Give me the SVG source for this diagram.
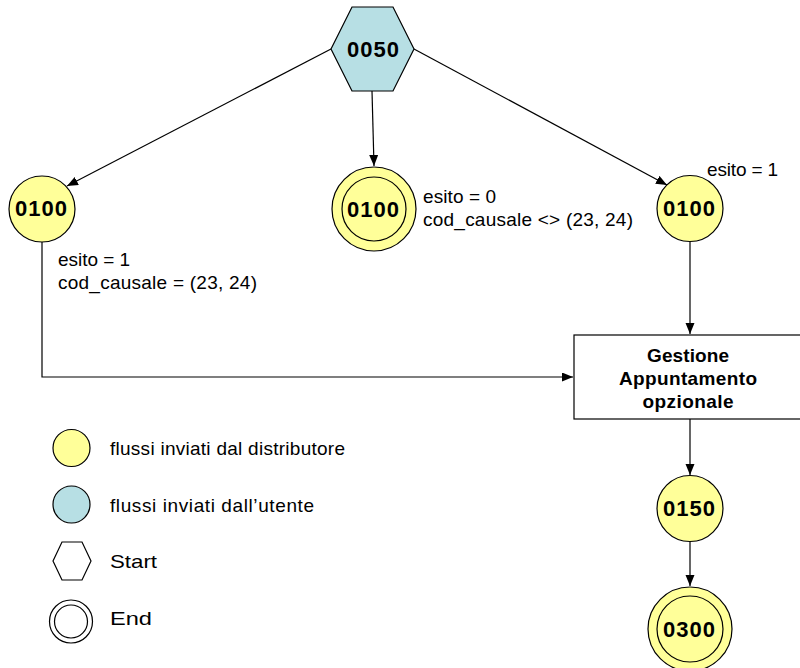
<svg xmlns="http://www.w3.org/2000/svg" width="800" height="668" viewBox="0 0 800 668">
<style>
.y{fill:#FFFF99;stroke:#000;stroke-width:1.2}
.b{fill:#B7DFE4;stroke:#000;stroke-width:1.2}
.w{fill:#fff;stroke:#000;stroke-width:1.2}
.n{fill:none;stroke:#000;stroke-width:1.2}
.lbl{font-family:"Liberation Sans",Arial,sans-serif;font-weight:bold;font-size:22px;text-anchor:middle;fill:#000}
.t{font-family:"Liberation Sans",Arial,sans-serif;font-size:19px;fill:#000}
.bt{font-family:"Liberation Sans",Arial,sans-serif;font-weight:bold;font-size:19px;text-anchor:middle;fill:#000}
.c{fill:none;stroke:#000;stroke-width:1.2}
</style>
<defs>
<marker id="ar" markerUnits="userSpaceOnUse" markerWidth="12" markerHeight="10" refX="11" refY="4.5" orient="auto">
<path d="M0,0 L11,4.5 L0,9 z" fill="#000"/>
</marker>
</defs>
<g id="connectors">
<line class="c" x1="331" y1="49" x2="67" y2="186" marker-end="url(#ar)"/>
<line class="c" x1="372" y1="91" x2="374" y2="166" marker-end="url(#ar)"/>
<line class="c" x1="414" y1="49" x2="667" y2="185" marker-end="url(#ar)"/>
<polyline class="c" points="42,242 42,377 573,377" marker-end="url(#ar)"/>
<line class="c" x1="690" y1="242" x2="690" y2="334" marker-end="url(#ar)"/>
<line class="c" x1="690" y1="419" x2="690" y2="475" marker-end="url(#ar)"/>
<line class="c" x1="690" y1="541" x2="690" y2="586" marker-end="url(#ar)"/>
</g>
<g id="n0050">
<polygon class="b" points="331,49 352,7 393,7 414,49 393,91 352,91"/>
<text class="lbl" x="373" y="57" textLength="52">0050</text>
</g>
<g id="n0100left">
<circle class="y" cx="42" cy="209" r="33"/>
<text class="lbl" x="41" y="216" textLength="52">0100</text>
</g>
<g id="n0100mid">
<circle class="y" cx="374" cy="209" r="42"/>
<circle class="n" cx="374" cy="209" r="32"/>
<text class="lbl" x="373" y="217" textLength="52">0100</text>
</g>
<g id="n0100right">
<circle class="y" cx="690" cy="208.5" r="33"/>
<text class="lbl" x="689" y="216" textLength="52">0100</text>
</g>
<g id="gestione">
<rect class="w" x="574" y="335" width="232" height="84"/>
<text class="bt" x="688" y="362" textLength="82">Gestione</text>
<text class="bt" x="688" y="385" textLength="138">Appuntamento</text>
<text class="bt" x="688" y="408" textLength="91">opzionale</text>
</g>
<g id="n0150">
<circle class="y" cx="690" cy="508.5" r="33"/>
<text class="lbl" x="689" y="516" textLength="52">0150</text>
</g>
<g id="n0300">
<circle class="y" cx="690" cy="629" r="42"/>
<circle class="n" cx="690" cy="629" r="33"/>
<text class="lbl" x="689" y="637" textLength="52">0300</text>
</g>
<g id="labels">
<text class="t" x="58" y="266" textLength="72">esito = 1</text>
<text class="t" x="58" y="289" textLength="199">cod_causale = (23, 24)</text>
<text class="t" x="423" y="203" textLength="73">esito = 0</text>
<text class="t" x="423" y="226" textLength="210">cod_causale &lt;&gt; (23, 24)</text>
<text class="t" x="707" y="176" textLength="71">esito = 1</text>
</g>
<g id="legend">
<circle class="y" cx="71.5" cy="448" r="18.5"/>
<text class="t" x="110" y="455" textLength="235">flussi inviati dal distributore</text>
<circle class="b" cx="71.5" cy="504.5" r="18.5"/>
<text class="t" x="110" y="512" textLength="204">flussi inviati dall’utente</text>
<polygon class="w" points="53,561 62,542 82,542 91,561 82,580 62,580"/>
<text class="t" x="110" y="568" textLength="47" lengthAdjust="spacingAndGlyphs">Start</text>
<circle class="w" cx="71" cy="621.5" r="21.5"/>
<circle class="n" cx="71" cy="621.5" r="16.5"/>
<text class="t" x="110" y="625" textLength="42" lengthAdjust="spacingAndGlyphs">End</text>
</g>
</svg>
